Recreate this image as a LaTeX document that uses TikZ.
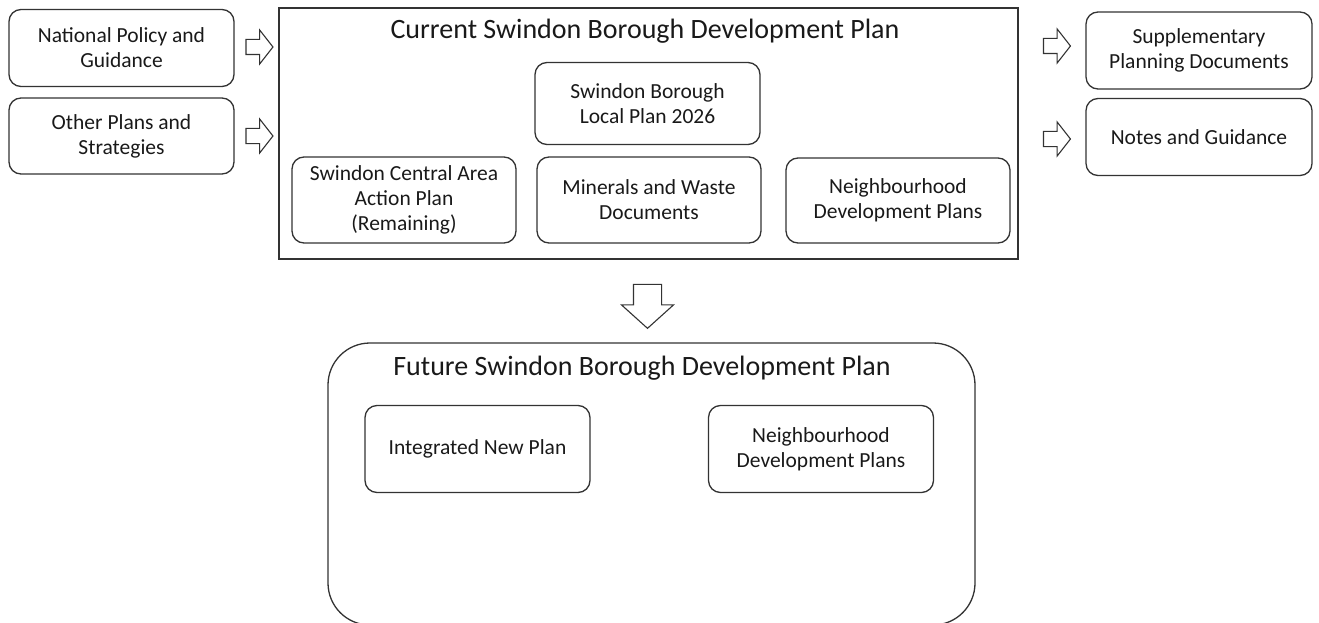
\documentclass[tikz,border=0pt]{standalone}
\usepackage{fontspec}
\setmainfont{Carlito}
\usetikzlibrary{shapes.arrows}
\begin{document}
\begin{tikzpicture}[x=1pt,y=-1pt,
  every node/.style={font=\fontsize{21.5}{25}\selectfont, align=center, text=black!90},
  rbox/.style={draw=black!80, line width=1.3pt, rounded corners=12pt, inner sep=0pt},
  bigtitle/.style={font=\fontsize{28}{33}\selectfont},
  blockarrow/.style={single arrow, draw=black!80, line width=1.1pt, fill=white, inner sep=0pt, outer sep=0pt}
]
\useasboundingbox (0,0) rectangle (1319,623);
% left inputs
\node[rbox, minimum width=225pt, minimum height=77pt] (nat) at (121.5,48) {National Policy and\\Guidance};
\node[rbox, minimum width=225pt, minimum height=76pt] (oth) at (121.5,136) {Other Plans and\\Strategies};
% current plan container
\node[draw=black!80, line width=1.3pt, minimum width=739pt, minimum height=251pt, inner sep=0pt] (cur) at (648.5,133.5) {};
\node[bigtitle] (curt) at (645,31) {Current Swindon Borough Development Plan};
\node[rbox, minimum width=225pt, minimum height=82pt] (lp) at (647.5,103.5) {Swindon Borough\\Local Plan 2026};
\node[rbox, minimum width=224pt, minimum height=86pt] (ca) at (404,200) {Swindon Central Area\\Action Plan\\(Remaining)};
\node[rbox, minimum width=224pt, minimum height=86pt] (mw) at (649,200) {Minerals and Waste\\Documents};
\node[rbox, minimum width=224pt, minimum height=85pt] (nd) at (898,200.5) {Neighbourhood\\Development Plans};
% right outputs
\node[rbox, minimum width=226pt, minimum height=77pt] (spd) at (1199,50.5) {Supplementary\\Planning Documents};
\node[rbox, minimum width=226pt, minimum height=77pt] (ng) at (1199,137) {Notes and Guidance};
% block arrows
\node[blockarrow, minimum height=27pt, minimum width=33pt, text height=14pt, single arrow head extend=9.5pt, single arrow tip angle=104] (a1) at (256.5,47) {};
\node[blockarrow, minimum height=27pt, minimum width=33pt, text height=14pt, single arrow head extend=9.5pt, single arrow tip angle=104] (a2) at (256.5,136) {};
\node[blockarrow, minimum height=27pt, minimum width=33pt, text height=14pt, single arrow head extend=9.5pt, single arrow tip angle=104] (a3) at (1054,46) {};
\node[blockarrow, minimum height=27pt, minimum width=33pt, text height=14pt, single arrow head extend=9.5pt, single arrow tip angle=104] (a4) at (1054,139) {};
\node[blockarrow, rotate=-90, minimum height=44pt, minimum width=51pt, text height=27pt, single arrow head extend=12pt, single arrow tip angle=96] (ad) at (647.5,300) {};
% future plan container
\draw[draw=black!80, line width=1.3pt, rounded corners=42pt] (328,343) rectangle (975,625);
\coordinate (fut) at (651.5,484);
\node[bigtitle] (futt) at (642,368) {Future Swindon Borough Development Plan};
\node[rbox, minimum width=225pt, minimum height=87pt] (inp) at (477.5,449) {Integrated New Plan};
\node[rbox, minimum width=225pt, minimum height=87pt] (fnd) at (821,449) {Neighbourhood\\Development Plans};
\end{tikzpicture}
\end{document}
